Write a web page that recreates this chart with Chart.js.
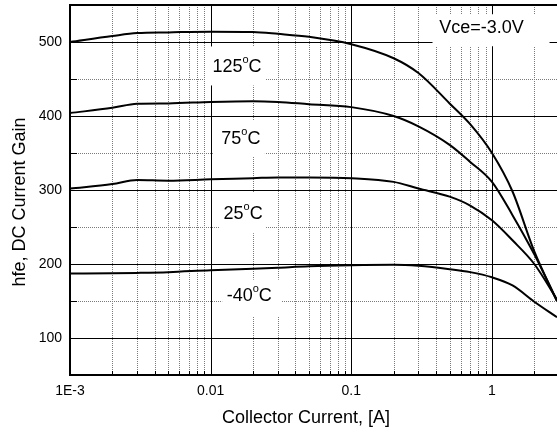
<!DOCTYPE html>
<html>
<head>
<meta charset="utf-8">
<title>hfe vs Collector Current</title>
<script src="https://cdn.jsdelivr.net/npm/chart.js@4.4.0/dist/chart.umd.min.js"></script>
<style>
    html, body { margin: 0; padding: 0; background: #fff; }
    #wrap { width: 557px; height: 432px; }
</style>
</head>
<body>
<div id="wrap"><canvas id="gain-chart" width="557" height="432"></canvas></div>
<script>
// collector current, A
const xCurrent = [0.001, 0.002, 0.003, 0.005, 0.01, 0.02, 0.03, 0.05, 0.1, 0.2, 0.3, 0.5, 0.7, 1, 1.4, 2, 2.9];

// hfe for each junction temperature
const gain125 = [500, 508, 512, 513, 514, 513.5, 511, 507, 497, 478, 458, 417, 389, 350, 298, 217, 150];
const gain75 = [404, 411, 416.5, 417, 419, 420, 419, 416, 412, 400, 386, 361, 338, 311, 266, 213, 150];
const gain25 = [302, 308, 313.5, 312.6, 314.5, 316, 317, 317, 316, 311, 302, 291, 279, 259, 232, 200, 152];
const gainM40 = [187, 187.5, 188, 189, 191.6, 193.5, 195, 197, 198.4, 199, 197.5, 193, 189, 182, 171, 149, 128];

const xTickValues = [0.001, 0.01, 0.1, 1];
const xTickLabels = ['1E-3', '0.01', '0.1', '1'];
const yTickValues = [100, 200, 300, 400, 500];
const yMinorValues = [150, 250, 350, 450];

const FONT = 'Arial, "Liberation Sans", sans-serif';

// text notes inside the plot: anchor in data units, white box around it in px
const notes = [
    { num: '125', x: 0.0154, y: 465.6, box: [-32, -21, 61, 39] },
    { num: '75', x: 0.0164, y: 369.2, box: [-28, -18, 52, 36] },
    { num: '25', x: 0.0170, y: 267.3, box: [-24, -22, 47, 41] },
    { num: '-40', x: 0.0188, y: 157.2, box: [-27, -16, 59, 37] }
];
const biasNote = { text: 'Vce=-3.0V', x: 0.843, y: 518.6, box: [-49, -14, 117, 32] };

function xy(ys) {
    return ys.map(function (v, i) { return { x: xCurrent[i], y: v }; });
}

function minorX(max) {
    let out = [];
    xTickValues.forEach(function (dec) {
        for (let k = 2; k <= 9; k++) {
            if (k * dec <= max) out.push(k * dec);
        }
    });
    return out;
}

// degree label: number, small raised "o", then C
function drawTemp(ctx, num, cx, cy) {
    ctx.font = '18px ' + FONT;
    const w1 = ctx.measureText(num).width;
    const w3 = ctx.measureText('C').width;
    ctx.font = '11px ' + FONT;
    const w2 = ctx.measureText('o').width;
    let left = cx - (w1 + w2 + w3) / 2;
    ctx.textBaseline = 'middle';
    ctx.textAlign = 'left';
    ctx.font = '18px ' + FONT;
    ctx.fillText(num, left, cy);
    ctx.font = '11px ' + FONT;
    ctx.fillText('o', left + w1, cy - 7);
    ctx.font = '18px ' + FONT;
    ctx.fillText('C', left + w1 + w2, cy);
}

const paperGrid = {
    id: 'paperGrid',
    beforeDatasetsDraw(chart) {
        const ctx = chart.ctx;
        const a = chart.chartArea;
        const xs = chart.scales.x;
        const ys = chart.scales.y;
        const px = v => Math.round(xs.getPixelForValue(v)) + 0.5;
        const py = v => Math.round(ys.getPixelForValue(v)) + 0.5;
        const xMinor = minorX(xs.max);

        ctx.save();
        // dotted minor lines
        ctx.lineWidth = 1;
        ctx.strokeStyle = '#7a7a7a';
        ctx.setLineDash([1, 1]);
        ctx.beginPath();
        xMinor.forEach(function (v) { ctx.moveTo(px(v), a.top); ctx.lineTo(px(v), a.bottom); });
        yMinorValues.forEach(function (v) { ctx.moveTo(a.left, py(v)); ctx.lineTo(a.right, py(v)); });
        ctx.stroke();

        // solid decade / hundred lines
        ctx.setLineDash([]);
        ctx.strokeStyle = '#000';
        ctx.beginPath();
        xTickValues.forEach(function (v) { ctx.moveTo(px(v), a.top); ctx.lineTo(px(v), a.bottom); });
        yTickValues.forEach(function (v) { ctx.moveTo(a.left, py(v)); ctx.lineTo(a.right, py(v)); });
        ctx.stroke();

        // little inside ticks
        ctx.beginPath();
        xMinor.forEach(function (v) { ctx.moveTo(px(v), a.bottom); ctx.lineTo(px(v), a.bottom - 4); });
        yMinorValues.concat(yTickValues).forEach(function (v) { ctx.moveTo(a.left, py(v)); ctx.lineTo(a.left + 7, py(v)); });
        ctx.stroke();

        // frame: left, top, bottom
        ctx.lineWidth = 2;
        ctx.beginPath();
        ctx.moveTo(a.right, a.top);
        ctx.lineTo(a.left, a.top);
        ctx.lineTo(a.left, a.bottom);
        ctx.lineTo(a.right, a.bottom);
        ctx.stroke();

        // temperature labels
        notes.forEach(function (n) {
            const cx = xs.getPixelForValue(n.x);
            const cy = ys.getPixelForValue(n.y);
            ctx.fillStyle = '#fff';
            ctx.fillRect(cx + n.box[0], cy + n.box[1], n.box[2], n.box[3]);
            ctx.fillStyle = '#000';
            drawTemp(ctx, n.num, cx, cy);
        });

        const bx = xs.getPixelForValue(biasNote.x);
        const by = ys.getPixelForValue(biasNote.y);
        ctx.fillStyle = '#fff';
        ctx.fillRect(bx + biasNote.box[0], by + biasNote.box[1], biasNote.box[2], biasNote.box[3]);
        ctx.fillStyle = '#000';
        ctx.font = '18px ' + FONT;
        ctx.textAlign = 'center';
        ctx.textBaseline = 'middle';
        ctx.fillText(biasNote.text, bx, by);
        ctx.restore();
    },
    afterDraw(chart) {
        const ctx = chart.ctx;
        ctx.save();
        ctx.fillStyle = '#000';
        ctx.font = '18px ' + FONT;
        ctx.textAlign = 'center';
        ctx.textBaseline = 'middle';
        ctx.fillText('Collector Current, [A]', 306, 418);
        ctx.translate(20, 202);
        ctx.rotate(-Math.PI / 2);
        ctx.fillText('hfe, DC Current Gain', 0, 0);
        ctx.restore();
    }
};

function curve(label, ys) {
    return {
        label: label,
        data: xy(ys),
        borderColor: '#000',
        borderWidth: 2,
        pointRadius: 0,
        fill: false,
        cubicInterpolationMode: 'monotone'
    };
}

// scales reserve room for end labels; the plot box goes edge to edge here
function noEdgePadding(scale) {
    scale.paddingTop = 0;
    scale.paddingBottom = 0;
    scale.paddingLeft = 0;
    scale.paddingRight = 0;
}

new Chart(document.getElementById('gain-chart').getContext('2d'), {
    type: 'line',
    data: {
        datasets: [
            curve('125°C', gain125),
            curve('75°C', gain75),
            curve('25°C', gain25),
            curve('-40°C', gainM40)
        ]
    },
    options: {
        responsive: false,
        animation: false,
        layout: { padding: { top: 5, right: 0, left: 0, bottom: 0 } },
        plugins: {
            legend: { display: false },
            tooltip: { enabled: false }
        },
        scales: {
            x: {
                type: 'logarithmic',
                min: 0.001,
                max: 2.9,
                grid: { display: false, drawTicks: false },
                border: { display: false },
                afterBuildTicks: function (scale) {
                    scale.ticks = xTickValues.map(v => ({ value: v }));
                },
                afterFit: function (scale) {
                    scale.height = 57;
                    noEdgePadding(scale);
                },
                ticks: {
                    autoSkip: false,
                    maxRotation: 0,
                    padding: 8,
                    color: '#000',
                    font: { family: FONT, size: 14 },
                    callback: function (value) {
                        const i = xTickValues.indexOf(value);
                        return i >= 0 ? xTickLabels[i] : '';
                    }
                }
            },
            y: {
                type: 'linear',
                min: 50,
                max: 550,
                grid: { display: false, drawTicks: false },
                border: { display: false },
                afterBuildTicks: function (scale) {
                    scale.ticks = yTickValues.map(v => ({ value: v }));
                },
                afterFit: function (scale) {
                    scale.width = 70;
                    noEdgePadding(scale);
                },
                ticks: {
                    padding: 8,
                    color: '#000',
                    font: { family: FONT, size: 14 }
                }
            }
        }
    },
    plugins: [paperGrid]
});
</script>
</body>
</html>
